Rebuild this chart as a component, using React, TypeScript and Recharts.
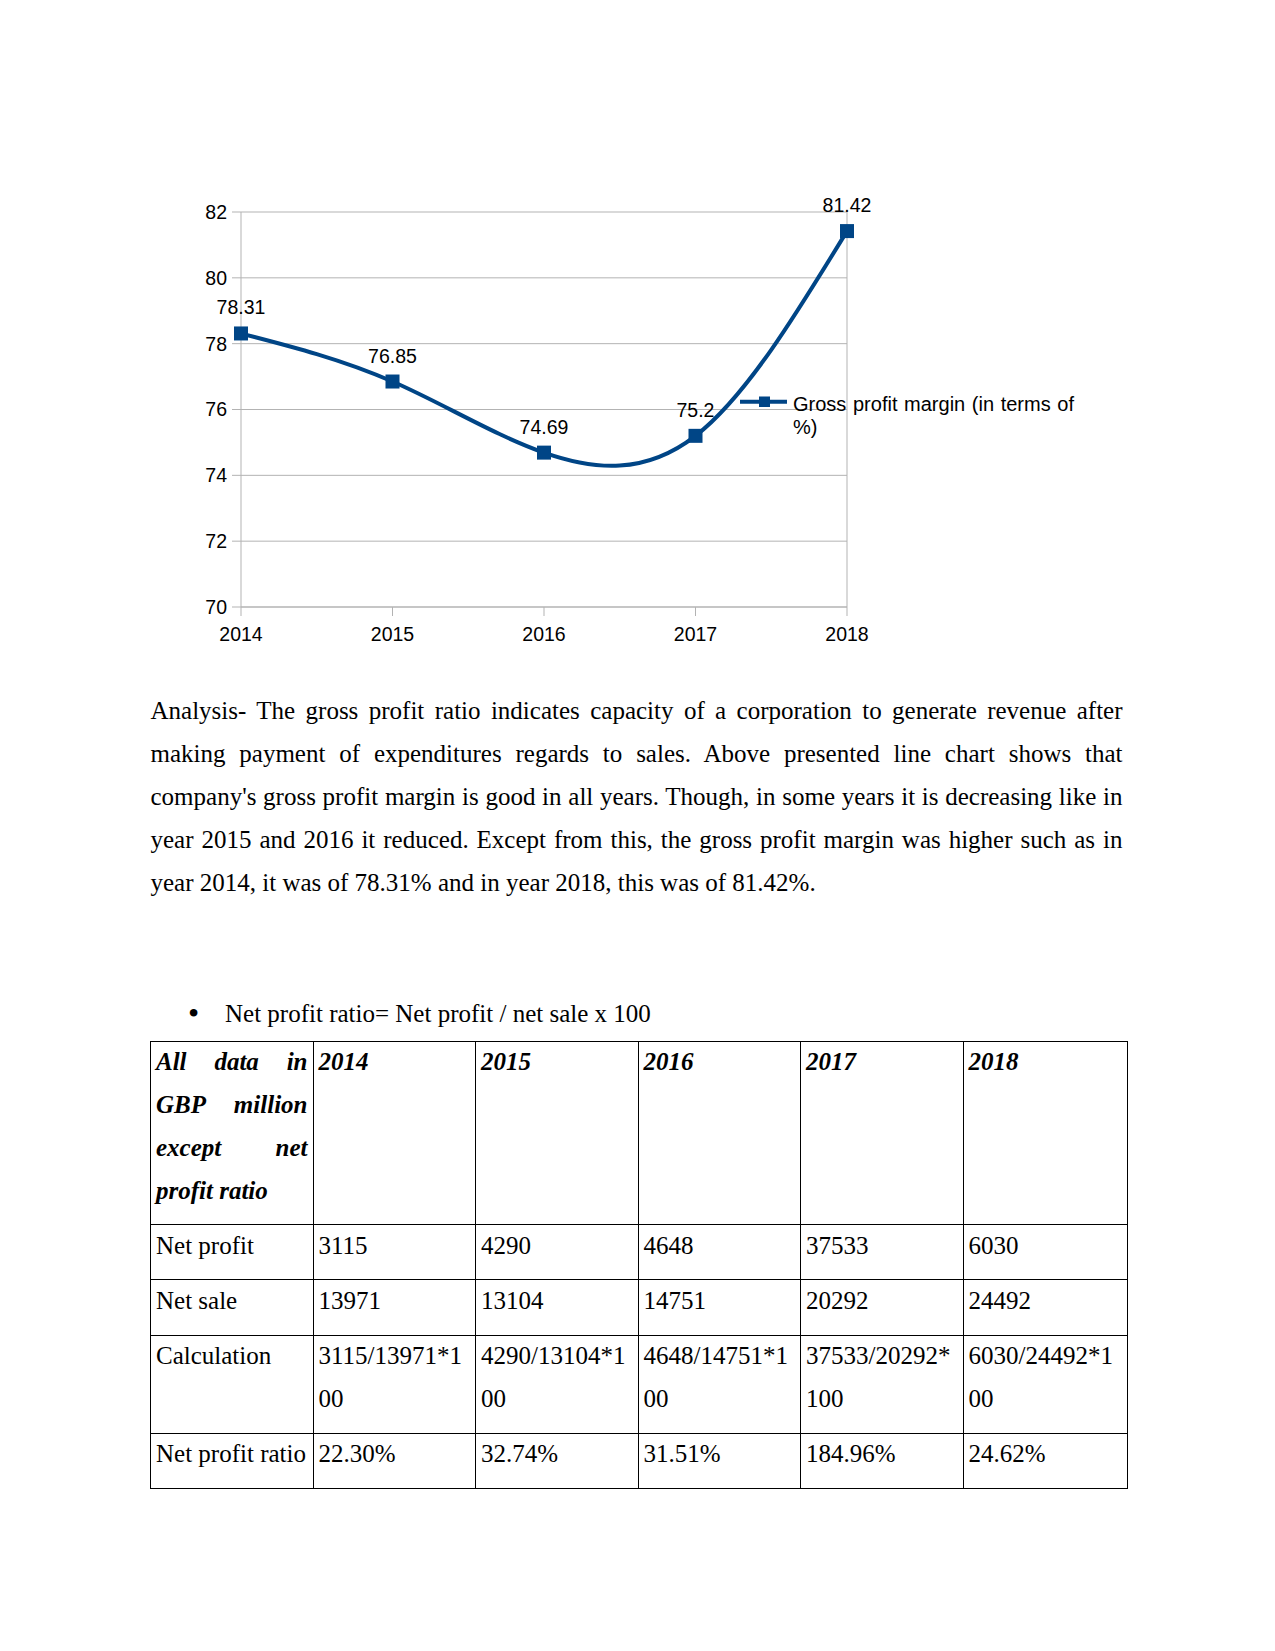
import React from "react";
import {
  LineChart,
  Line,
  XAxis,
  YAxis,
  CartesianGrid,
  ReferenceLine,
  LabelList,
  Legend,
} from "recharts";

const YEARS = ["2014", "2015", "2016", "2017", "2018"];
const GROSS_MARGIN = [78.31, 76.85, 74.69, 75.2, 81.42];
const Y_TICKS = [70, 72, 74, 76, 78, 80, 82];
const SERIES_NAME = "Gross profit margin (in terms of %)";

const ANALYSIS =
  "Analysis- The gross profit ratio indicates capacity of a corporation to generate revenue after making payment of expenditures regards to sales. Above presented line chart shows that company's gross profit margin is good in all years. Though, in some years it is decreasing like in year 2015 and 2016 it reduced. Except from this, the gross profit margin was higher such as in year 2014, it was of 78.31% and in year 2018, this was of 81.42%.";
const BULLET = "Net profit ratio= Net profit / net sale x 100";

const TABLE_HEAD = "All data in GBP million except net profit ratio";
const ROW_LABELS = ["Net profit", "Net sale", "Calculation", "Net profit ratio"];
const NET_PROFIT = ["3115", "4290", "4648", "37533", "6030"];
const NET_SALE = ["13971", "13104", "14751", "20292", "24492"];
const CALCULATION = [
  "3115/13971*100",
  "4290/13104*100",
  "4648/14751*100",
  "37533/20292*100",
  "6030/24492*100",
];
const NET_PROFIT_RATIO = ["22.30%", "32.74%", "31.51%", "184.96%", "24.62%"];

const BLUE = "#004586";
const GRID = "#b3b3b3";
const SANS = "'Liberation Sans', Arial, sans-serif";
const SERIF = "'Liberation Serif', 'Times New Roman', serif";
const CHART_FONT = 19.5;

const chartData = YEARS.map((year, i) => ({ year, value: GROSS_MARGIN[i] }));

const SquareDot = (props: any) => {
  const { cx, cy, index } = props;
  return <rect key={`dot-${index}`} x={cx - 7} y={cy - 7} width={14} height={14} fill={BLUE} />;
};

const LegendBox = () => (
  <div style={{ position: "relative", width: 345, height: 50, fontFamily: SANS }}>
    <svg width={48} height={20} style={{ position: "absolute", left: 0, top: 0 }}>
      <line x1={0} y1={8.7} x2={47} y2={8.7} stroke={BLUE} strokeWidth={4} />
      <rect x={19} y={3.5} width={11} height={10.5} fill={BLUE} />
    </svg>
    <div
      style={{
        position: "absolute",
        left: 53,
        top: 0,
        width: 281,
        fontSize: 20,
        lineHeight: "22.5px",
        textAlign: "justify",
        color: "#000",
      }}
    >
      {SERIES_NAME}
    </div>
  </div>
);

function GrossMarginChart() {
  return (
    <LineChart
      width={1100}
      height={480}
      data={chartData}
      margin={{ top: 32, right: 253, bottom: 13, left: 181 }}
    >
      <CartesianGrid vertical={false} stroke={GRID} strokeWidth={1} />
      <XAxis
        dataKey="year"
        axisLine={{ stroke: GRID }}
        tickLine={{ stroke: GRID }}
        tickSize={9}
        tickMargin={11}
        height={40}
        tick={{ fill: "#000", fontSize: CHART_FONT, fontFamily: SANS }}
      />
      <YAxis
        domain={[70, 82]}
        ticks={Y_TICKS}
        width={60}
        axisLine={{ stroke: GRID }}
        tickLine={{ stroke: GRID }}
        tickSize={9}
        tickMargin={5}
        tick={{ fill: "#000", fontSize: CHART_FONT, fontFamily: SANS }}
      />
      <ReferenceLine x="2018" stroke={GRID} />
      <Legend
        layout="vertical"
        align="center"
        verticalAlign="middle"
        wrapperStyle={{ left: 740, top: 213 }}
        content={() => <LegendBox />}
      />
      <Line
        type="natural"
        dataKey="value"
        name={SERIES_NAME}
        stroke={BLUE}
        strokeWidth={4}
        dot={SquareDot}
        activeDot={false}
        isAnimationActive={false}
      >
        <LabelList
          dataKey="value"
          position="top"
          offset={19}
          fill="#000"
          fontSize={CHART_FONT}
          fontFamily={SANS}
        />
      </Line>
    </LineChart>
  );
}

const cellStyle: React.CSSProperties = {
  border: "1px solid #000",
  padding: "0 5px",
  verticalAlign: "top",
  lineHeight: "43px",
  textAlign: "left",
  wordBreak: "break-all",
};

const headInner: React.CSSProperties = { marginTop: -2, paddingBottom: 12.3 };
const bodyInner: React.CSSProperties = { marginTop: -1.2, paddingBottom: 12.3 };

function DataTable() {
  const rows = [NET_PROFIT, NET_SALE, CALCULATION, NET_PROFIT_RATIO];
  return (
    <table
      style={{
        position: "absolute",
        left: 150,
        top: 1041,
        width: 977,
        borderCollapse: "collapse",
        tableLayout: "fixed",
        fontFamily: SERIF,
        fontSize: 25,
        color: "#000",
      }}
    >
      <colgroup>
        {[0, 1, 2, 3, 4, 5].map((i) => (
          <col key={i} style={{ width: i === 5 ? 164 : 162.5 }} />
        ))}
      </colgroup>
      <tbody>
        <tr>
          <td
            style={{
              ...cellStyle,
              fontWeight: "bold",
              fontStyle: "italic",
              textAlign: "justify",
              wordBreak: "normal",
            }}
          >
            <div style={headInner}>{TABLE_HEAD}</div>
          </td>
          {YEARS.map((y) => (
            <td key={y} style={{ ...cellStyle, fontWeight: "bold", fontStyle: "italic" }}>
              <div style={headInner}>{y}</div>
            </td>
          ))}
        </tr>
        {rows.map((row, r) => (
          <tr key={ROW_LABELS[r]}>
            <td style={{ ...cellStyle, wordBreak: "normal", whiteSpace: "nowrap" }}>
              <div style={bodyInner}>{ROW_LABELS[r]}</div>
            </td>
            {row.map((v, i) => (
              <td key={i} style={cellStyle}>
                <div style={bodyInner}>{v}</div>
              </td>
            ))}
          </tr>
        ))}
      </tbody>
    </table>
  );
}

export default function App() {
  return (
    <div
      style={{
        position: "absolute",
        left: 0,
        top: 0,
        width: 1275,
        height: 1651,
        background: "#fff",
        overflow: "hidden",
      }}
    >
      <div style={{ position: "absolute", left: 0, top: 180 }}>
        <GrossMarginChart />
      </div>
      <div
        style={{
          position: "absolute",
          left: 150.5,
          top: 688.5,
          width: 972,
          fontFamily: SERIF,
          fontSize: 25,
          lineHeight: "43px",
          textAlign: "justify",
          color: "#000",
        }}
      >
        {ANALYSIS}
      </div>
      <div
        style={{
          position: "absolute",
          left: 188,
          top: 991.8,
          fontFamily: SERIF,
          fontSize: 32,
          lineHeight: "43px",
          color: "#000",
        }}
      >
        •
      </div>
      <div
        style={{
          position: "absolute",
          left: 225,
          top: 991.8,
          fontFamily: SERIF,
          fontSize: 25,
          lineHeight: "43px",
          color: "#000",
          whiteSpace: "nowrap",
        }}
      >
        {BULLET}
      </div>
      <DataTable />
    </div>
  );
}
